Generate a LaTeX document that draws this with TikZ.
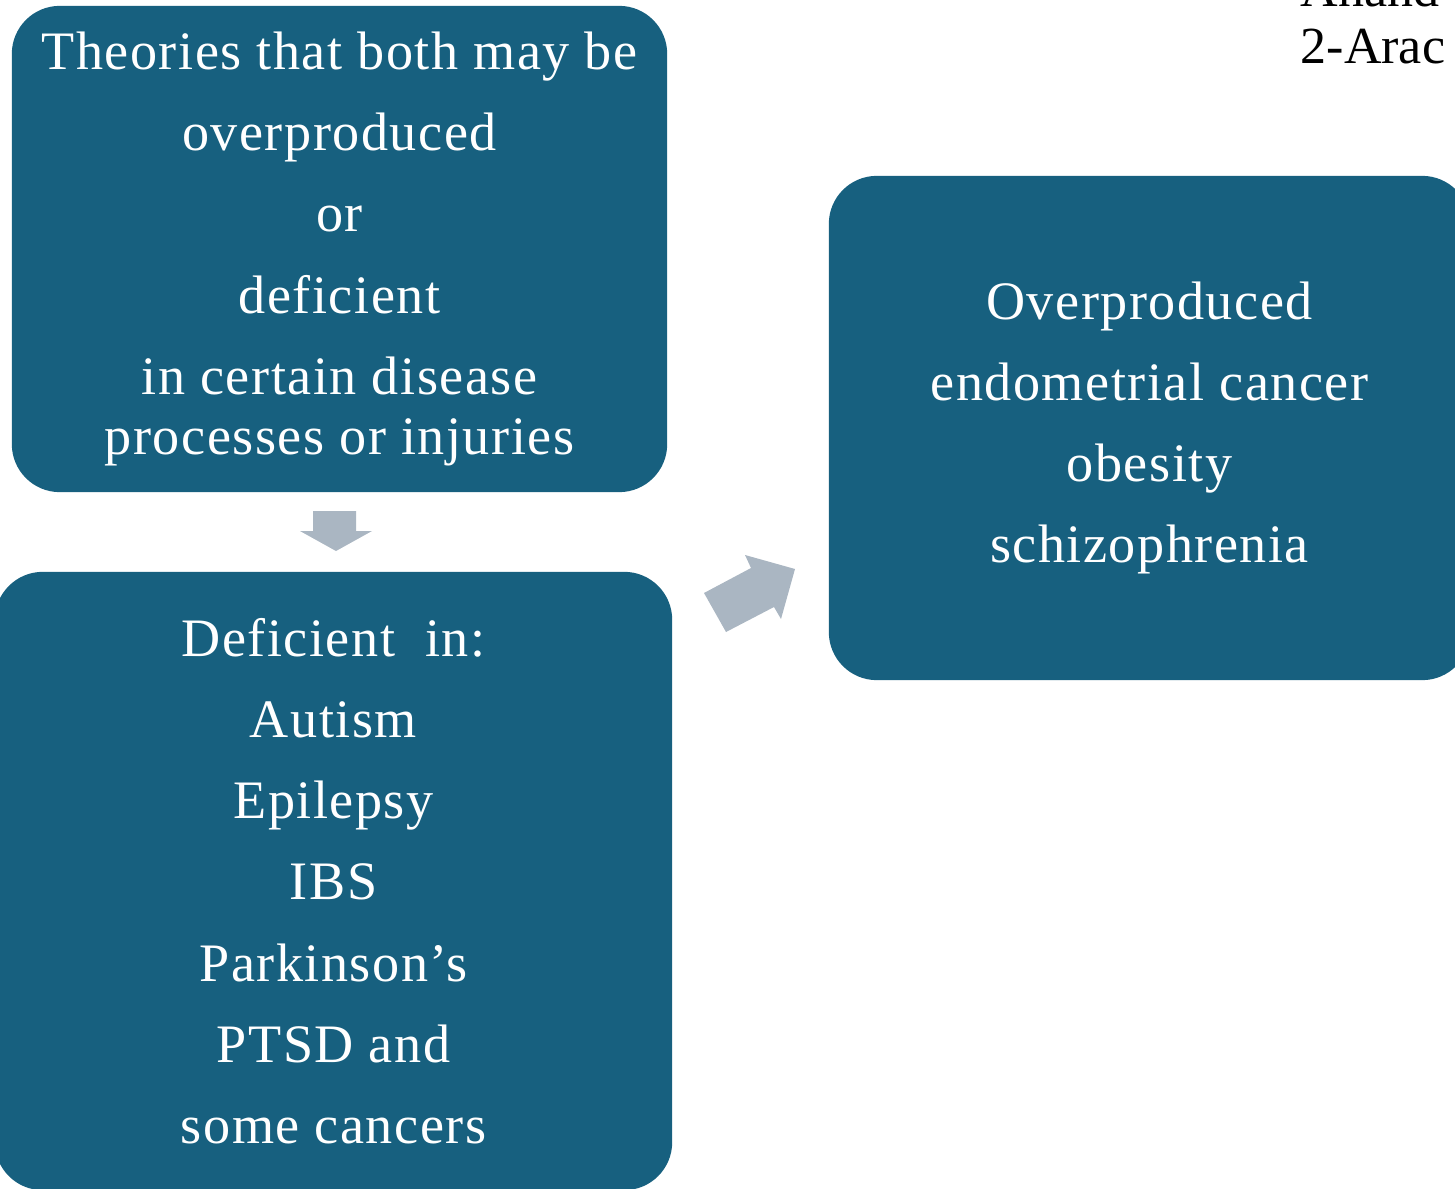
\documentclass[tikz,border=0pt]{standalone}
\usepackage{fontspec}
\setmainfont{Liberation Serif}
\newfontfamily\spacedserif[LetterSpace=2.8]{Liberation Serif}
\usepackage{tikz}
\usepackage{xcolor}
\definecolor{boxcolorc}{HTML}{17607F}
\definecolor{arrowcolorc}{HTML}{AAB6C2}
\colorlet{boxcolor}{boxcolorc}
\colorlet{arrowcolor}{arrowcolorc}
\colorlet{boxtextcolor}{white}
\tikzstyle{diseasebox} = [
    fill=boxcolor,
    text=boxtextcolor,
    rectangle,
    rounded corners=0.48cm,
    align=center,
    inner sep=0pt,
    font=\spacedserif\fontsize{15.4pt}{23.1pt}\selectfont
    ]
\tikzstyle{blockarrow} = [
    fill=arrowcolor
    ]
\tikzstyle{cornertext} = [
    anchor=base west,
    inner sep=0pt,
    font=\fontsize{14.8pt}{16pt}\selectfont
    ]

\begin{document}
\begin{tikzpicture}[x=0.01cm,y=-0.01cm]
\clip (0,0) rectangle (1455,1188);
\node [diseasebox, minimum width=6.55cm, minimum height=4.86cm] (theories) at (339.5,249) {%
    Theories that both may be\\
    overproduced\\
    or\\
    deficient\\
    in certain disease\\[-6pt]
    processes or injuries};
\node [diseasebox, minimum width=6.77cm, minimum height=6.18cm] (deficient) at (333.5,881) {%
    Deficient~ in:\\
    Autism\\
    Epilepsy\\
    IBS\\
    Parkinson’s\\
    PTSD and\\
    some cancers};
\node [diseasebox, minimum width=6.41cm, minimum height=5.04cm] (overproduced) at (1149.5,428) {%
    Overproduced\\
    endometrial cancer\\
    obesity\\
    schizophrenia};
% block arrows
\fill [blockarrow] (313,511) -- (356,511) -- (356,531) -- (372,531) -- (336,551) -- (300,531) -- (313,531) -- cycle;
\fill [blockarrow] (704,593) -- (726,632) -- (774,607) -- (781,619) -- (795,569) -- (745,555) -- (751,568) -- cycle;
\node [cornertext] (anand) at (1300,7) {Anand};
\node [cornertext] (arac) at (1300,64) {2-Arac};
\end{tikzpicture}
\end{document}
